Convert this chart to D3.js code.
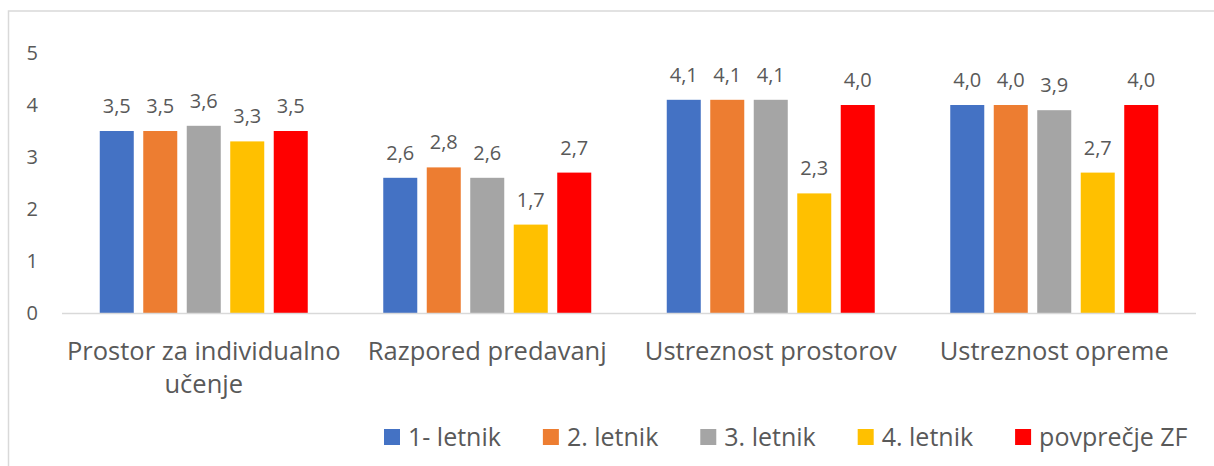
<!DOCTYPE html>
<html>
<head>
<meta charset="utf-8">
<script src="https://cdn.jsdelivr.net/npm/d3@7"></script>
<style>
  body { margin: 0; background: #fff; }
  text { font-family: "Open Sans", sans-serif; fill: #595959; }
</style>
</head>
<body>
<div id="chart"></div>
<script>
// data
const categories = [
    ["Prostor za individualno", "učenje"],
    ["Razpored predavanj"],
    ["Ustreznost prostorov"],
    ["Ustreznost opreme"]
];
const seriesNames = ["1- letnik", "2. letnik", "3. letnik", "4. letnik", "povprečje ZF"];
const seriesColors = ["#4472C4", "#ED7D31", "#A5A5A5", "#FFC000", "#FF0000"];
const letnik1 = [3.5, 2.6, 4.1, 4.0];
const letnik2 = [3.5, 2.8, 4.1, 4.0];
const letnik3 = [3.6, 2.6, 4.1, 3.9];
const letnik4 = [3.3, 1.7, 2.3, 2.7];
const povprecje = [3.5, 2.7, 4.0, 4.0];
const yTicks = [0, 1, 2, 3, 4, 5];

const allSeries = [letnik1, letnik2, letnik3, letnik4, povprecje];

const svg = d3.select("#chart")
    .append("svg")
    .attr("width", 1214)
    .attr("height", 466);

// outer frame
svg.append("rect")
    .attr("x", 8.5)
    .attr("y", 11)
    .attr("width", 1400)
    .attr("height", 600)
    .attr("fill", "none")
    .attr("stroke", "#D9D9D9")
    .attr("stroke-width", 1.5);

const x0 = d3.scaleBand()
    .domain(d3.range(categories.length))
    .range([62, 1196])
    .padding(0);

const x1 = d3.scaleBand()
    .domain(d3.range(seriesNames.length))
    .range([0, x0.bandwidth()])
    .paddingInner(0.218)
    .paddingOuter(0.868);

const y = d3.scaleLinear().domain([0, 5]).range([313, 53]);

// y tick labels
svg.selectAll(".ytick")
    .data(yTicks)
    .enter()
    .append("text")
    .attr("class", "ytick")
    .attr("x", 38)
    .attr("y", d => y(d))
    .attr("dy", "0.36em")
    .attr("text-anchor", "end")
    .style("font-size", "20px")
    .text(d => d);

// bars
const groups = svg.selectAll(".grp")
    .data(categories)
    .enter()
    .append("g")
    .attr("class", "grp")
    .attr("transform", (d, i) => `translate(${x0(i)},0)`);

groups.each(function (c, ci) {
    const g = d3.select(this);
    allSeries.forEach((vals, si) => {
        g.append("rect")
            .attr("x", x1(si))
            .attr("y", y(vals[ci]))
            .attr("width", x1.bandwidth())
            .attr("height", y(0) - y(vals[ci]))
            .attr("fill", seriesColors[si]);
        g.append("text")
            .attr("x", x1(si) + x1.bandwidth() / 2)
            .attr("y", y(vals[ci]) - 18)
            .attr("text-anchor", "middle")
            .style("font-size", "20px")
            .text(d3.format(".1f")(vals[ci]).replace(".", ","));
    });
});

// x axis line
svg.append("line")
    .attr("x1", 62)
    .attr("x2", 1196)
    .attr("y1", y(0) + 0.5)
    .attr("y2", y(0) + 0.5)
    .attr("stroke", "#D9D9D9")
    .attr("stroke-width", 1.5);

// category labels
categories.forEach((lines, i) => {
    lines.forEach((t, li) => {
        svg.append("text")
            .attr("x", x0(i) + x0.bandwidth() / 2)
            .attr("y", 360 + li * 33)
            .attr("text-anchor", "middle")
            .style("font-size", "25.5px")
            .text(t);
    });
});

// legend
let lx = 384;
seriesNames.forEach((name, i) => {
    svg.append("rect")
        .attr("x", lx)
        .attr("y", 429)
        .attr("width", 16)
        .attr("height", 16)
        .attr("fill", seriesColors[i]);
    const t = svg.append("text")
        .attr("x", lx + 24)
        .attr("y", 446)
        .style("font-size", "25px")
        .text(name);
    lx += 24 + t.node().getComputedTextLength() + 42;
});
</script>
</body>
</html>
